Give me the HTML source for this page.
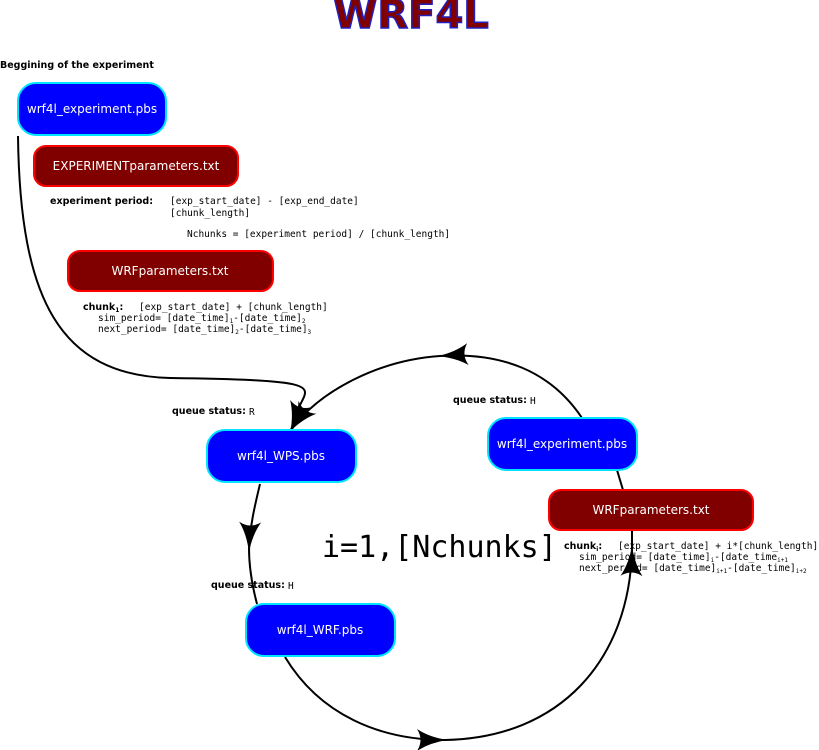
<!DOCTYPE html>
<html><head><meta charset="utf-8"><style>body{margin:0;background:#fff}svg{display:block}</style></head><body>
<svg width="819" height="750" xmlns="http://www.w3.org/2000/svg" font-family="DejaVu Sans, Liberation Sans, sans-serif">
<defs>
<marker id="ah" viewBox="0 0 30 22" refX="28" refY="11" markerWidth="30" markerHeight="22" markerUnits="userSpaceOnUse" orient="auto">
<path d="M0,0 Q12,8 30,11 Q12,14 0,22 Q7,11 0,0 Z" fill="#000"/>
</marker>
</defs>
<text x="411" y="28" text-anchor="middle" font-size="40" font-weight="bold" fill="#800000" stroke="#2020c0" stroke-width="1.5">WRF4L</text>
<text x="0" y="68" font-size="9.5" font-weight="bold">Beggining of the experiment</text>

<g fill="none" stroke="#000" stroke-width="2">
<path d="M18,136 C20,300 60,375 170,378 C320,380 310,385 300,405 L291,430" marker-end="url(#ah)"/>
<path d="M582,418 C550,370 500,352 440,356" marker-end="url(#ah)"/>
<path d="M440,356 C380,360 320,390 291,430" marker-end="url(#ah)"/>
<path d="M260,484 C255,505 250,525 249,550" marker-end="url(#ah)"/>
<path d="M249,548 C249,565 252,585 257,604"/>
<path d="M285,657 C320,715 380,740 445,740" marker-end="url(#ah)"/>
<path d="M445,740 C560,738 630,660 632,548" marker-end="url(#ah)"/>
<path d="M632,560 L632,530"/>
<path d="M617,470 L623,490"/>
</g>

<g font-size="12" fill="#fff" text-anchor="middle">
<rect x="18" y="83" width="148" height="52" rx="18" fill="#0000ff" stroke="#00e5ff" stroke-width="2"/>
<text x="92" y="113">wrf4l_experiment.pbs</text>
<rect x="34" y="146" width="204" height="40" rx="12" fill="#800000" stroke="#ff0000" stroke-width="2"/>
<text x="136" y="170">EXPERIMENTparameters.txt</text>
<rect x="68" y="251" width="205" height="40" rx="12" fill="#800000" stroke="#ff0000" stroke-width="2"/>
<text x="170" y="275">WRFparameters.txt</text>
<rect x="207" y="430" width="149" height="52" rx="18" fill="#0000ff" stroke="#00e5ff" stroke-width="2"/>
<text x="281" y="460">wrf4l_WPS.pbs</text>
<rect x="246" y="604" width="149" height="52" rx="18" fill="#0000ff" stroke="#00e5ff" stroke-width="2"/>
<text x="320" y="634">wrf4l_WRF.pbs</text>
<rect x="488" y="418" width="149" height="52" rx="18" fill="#0000ff" stroke="#00e5ff" stroke-width="2"/>
<text x="562" y="448">wrf4l_experiment.pbs</text>
<rect x="549" y="490" width="204" height="40" rx="12" fill="#800000" stroke="#ff0000" stroke-width="2"/>
<text x="651" y="514">WRFparameters.txt</text>
</g>

<g font-size="9.5" font-weight="bold">
<text x="50" y="204">experiment period:</text>
<text x="83" y="310">chunk<tspan font-size="6" dy="2">1</tspan><tspan dy="-2">:</tspan></text>
<text x="172" y="414">queue status:</text>
<text x="453" y="403">queue status:</text>
<text x="211" y="588">queue status:</text>
<text x="564" y="549">chunk<tspan font-size="6" dy="2">i</tspan><tspan dy="-2">:</tspan></text>
</g>
<g font-size="9.5" font-family="DejaVu Sans Mono, Liberation Mono, monospace">
<text x="170" y="204">[exp_start_date] - [exp_end_date]</text>
<text x="170" y="216">[chunk_length]</text>
<text x="187" y="237">Nchunks = [experiment period] / [chunk_length]</text>
<text x="139" y="310">[exp_start_date] + [chunk_length]</text>
<text x="98" y="321">sim_period= [date_time]<tspan font-size="6" dy="2">1</tspan><tspan dy="-2">-[date_time]</tspan><tspan font-size="6" dy="2">2</tspan></text>
<text x="98" y="332">next_period= [date_time]<tspan font-size="6" dy="2">2</tspan><tspan dy="-2">-[date_time]</tspan><tspan font-size="6" dy="2">3</tspan></text>
<text x="249" y="415">R</text>
<text x="530" y="404">H</text>
<text x="288" y="589">H</text>
<text x="618" y="549">[exp_start_date] + i*[chunk_length]</text>
<text x="579" y="560">sim_period= [date_time]<tspan font-size="6" dy="2">i</tspan><tspan dy="-2">-[date_time</tspan><tspan font-size="6" dy="2">i+1</tspan></text>
<text x="579" y="571">next_period= [date_time]<tspan font-size="6" dy="2">i+1</tspan><tspan dy="-2">-[date_time]</tspan><tspan font-size="6" dy="2">i+2</tspan></text>
<text x="322" y="557" font-size="30">i=1,[Nchunks]</text>
</g>
</svg>
</body></html>
